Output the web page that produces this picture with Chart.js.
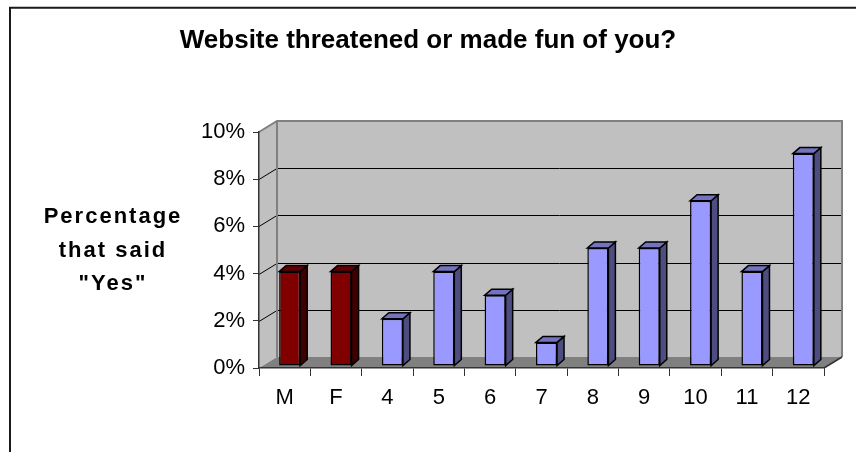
<!DOCTYPE html>
<html>
<head>
<meta charset="utf-8">
<script src="https://cdn.jsdelivr.net/npm/chart.js@4.4.0/dist/chart.umd.min.js"></script>
<style>
  html, body { margin: 0; padding: 0; background: #fff; }
  #wrap { width: 856px; height: 452px; }
</style>
</head>
<body>
<div id="wrap"><canvas id="chart" width="856" height="452"></canvas></div>
<script>
// Data
const categories = ["M", "F", "4", "5", "6", "7", "8", "9", "10", "11", "12"];
const yesPercent = [4, 4, 2, 4, 3, 1, 5, 5, 7, 4, 9];
const genderCategories = ["M", "F"];
const yTicks = [0, 2, 4, 6, 8, 10];
const chartTitle = "Website threatened or made fun of you?";
const yTitleLines = ["Percentage", "that said", "\"Yes\""];

// 3D look
const WALL = { dx: 18, dy: -11 };
const BAR_SHIFT = { x: 5, y: -2 };
const BAR_DEPTH = { dx: 7, dy: -6 };
const FONT = "'Liberation Sans', Arial, sans-serif";

const palette = {
  gender: { front: "#800000", side: "#400000", top: "#600000" },
  grade: { front: "#9999FF", side: "#4D4D80", top: "#7373BF" },
};
function groupOf(i) {
  return genderCategories.includes(categories[i]) ? "gender" : "grade";
}

// walls, floor, gridlines and the outer frame
const walls = {
  id: "walls",
  beforeDraw(chart) {
    const ctx = chart.ctx;
    const { left, right, top, bottom } = chart.chartArea;
    const y = chart.scales.y;
    ctx.save();

    ctx.strokeStyle = "#1a1a1a";
    ctx.lineWidth = 2;
    ctx.beginPath();
    ctx.moveTo(10, 470);
    ctx.lineTo(10, 7.7);
    ctx.lineTo(870, 7.7);
    ctx.stroke();

    // side wall
    ctx.fillStyle = "#C0C0C0";
    ctx.beginPath();
    ctx.moveTo(left, top);
    ctx.lineTo(left + WALL.dx, top + WALL.dy);
    ctx.lineTo(left + WALL.dx, bottom + WALL.dy);
    ctx.lineTo(left, bottom);
    ctx.closePath();
    ctx.fill();
    // back wall
    ctx.fillRect(left + WALL.dx, top + WALL.dy, right - left, bottom - top);
    // floor
    ctx.fillStyle = "#808080";
    ctx.beginPath();
    ctx.moveTo(left, bottom);
    ctx.lineTo(right, bottom);
    ctx.lineTo(right + WALL.dx, bottom + WALL.dy);
    ctx.lineTo(left + WALL.dx, bottom + WALL.dy);
    ctx.closePath();
    ctx.fill();

    // gridlines across side and back wall
    ctx.strokeStyle = "#000";
    ctx.lineWidth = 1;
    y.ticks.forEach((t) => {
      if (t.value === y.min || t.value === y.max) return;
      const py = Math.round(y.getPixelForValue(t.value)) + 0.5;
      ctx.beginPath();
      ctx.moveTo(left, py);
      ctx.lineTo(left + WALL.dx, py + WALL.dy);
      ctx.lineTo(right + WALL.dx, py + WALL.dy);
      ctx.stroke();
    });

    // wall edges
    ctx.strokeStyle = "#808080";
    ctx.lineWidth = 2;
    ctx.beginPath();
    ctx.moveTo(left, top);
    ctx.lineTo(left + WALL.dx, top + WALL.dy);
    ctx.lineTo(right + WALL.dx, top + WALL.dy);
    ctx.lineTo(right + WALL.dx, bottom + WALL.dy);
    ctx.moveTo(left + WALL.dx, top + WALL.dy);
    ctx.lineTo(left + WALL.dx, bottom + WALL.dy);
    ctx.stroke();

    ctx.strokeStyle = "#333";
    ctx.lineWidth = 1.5;
    ctx.beginPath();
    ctx.moveTo(right, bottom);
    ctx.lineTo(right + WALL.dx, bottom + WALL.dy);
    ctx.stroke();
    ctx.restore();
  },
  beforeDatasetsDraw(chart) {
    chart.ctx.save();
    chart.ctx.translate(BAR_SHIFT.x, BAR_SHIFT.y);
  },
  afterDatasetsDraw(chart) {
    const ctx = chart.ctx;
    ctx.strokeStyle = "#000";
    ctx.lineWidth = 1.5;
    ctx.lineJoin = "miter";
    chart.getDatasetMeta(0).data.forEach((bar, i) => {
      const { x, y, base, width } = bar.getProps(["x", "y", "base", "width"], true);
      const l = x - width / 2;
      const r = x + width / 2;
      const c = palette[groupOf(i)];
      // side face
      ctx.fillStyle = c.side;
      ctx.beginPath();
      ctx.moveTo(r, y);
      ctx.lineTo(r + BAR_DEPTH.dx, y + BAR_DEPTH.dy);
      ctx.lineTo(r + BAR_DEPTH.dx, base + BAR_DEPTH.dy);
      ctx.lineTo(r, base);
      ctx.closePath();
      ctx.fill();
      ctx.stroke();
      // top face
      ctx.fillStyle = c.top;
      ctx.beginPath();
      ctx.moveTo(l, y);
      ctx.lineTo(l + BAR_DEPTH.dx, y + BAR_DEPTH.dy);
      ctx.lineTo(r + BAR_DEPTH.dx, y + BAR_DEPTH.dy);
      ctx.lineTo(r, y);
      ctx.closePath();
      ctx.fill();
      ctx.stroke();
    });
    ctx.restore();
  },
  afterDraw(chart) {
    const ctx = chart.ctx;
    ctx.save();
    ctx.fillStyle = "#000";
    ctx.font = "bold 22px " + FONT;
    ctx.letterSpacing = "2px";
    ctx.textAlign = "center";
    ctx.textBaseline = "alphabetic";
    const baselines = [223, 256.5, 290];
    yTitleLines.forEach((line, i) => {
      ctx.fillText(line, 113, baselines[i]);
    });
    ctx.restore();
  },
};

new Chart(document.getElementById("chart"), {
  type: "bar",
  data: {
    labels: categories,
    datasets: [
      {
        data: yesPercent,
        backgroundColor: (ctx) => palette[groupOf(ctx.dataIndex)].front,
        borderColor: "#000",
        borderWidth: 1.5,
        borderSkipped: false,
        barPercentage: 0.41,
        categoryPercentage: 1,
        clip: false,
      },
    ],
  },
  options: {
    responsive: false,
    animation: false,
    devicePixelRatio: 1,
    layout: { padding: { left: 32, right: 32, top: 0, bottom: 0 } },
    plugins: {
      legend: { display: false },
      tooltip: { enabled: false },
      title: {
        display: true,
        text: chartTitle,
        color: "#000",
        font: { family: FONT, size: 26, weight: "bold" },
        padding: { top: 25.4, bottom: 75.4 },
      },
    },
    scales: {
      x: {
        grid: { drawOnChartArea: false, drawTicks: true, tickLength: 8, color: "#333", offset: true },
        border: { color: "#333", width: 1.5 },
        ticks: { color: "#000", font: { family: FONT, size: 22 }, padding: 9 },
        afterFit: (s) => { s.height = 84; },
      },
      y: {
        min: 0,
        max: 10,
        grid: { drawOnChartArea: false, drawTicks: true, tickLength: 6, color: "#333" },
        border: { color: "#333", width: 1.5 },
        ticks: {
          color: "#000",
          font: { family: FONT, size: 22 },
          padding: 8,
          callback: (v) => v + "%",
        },
        afterBuildTicks: (s) => { s.ticks = yTicks.map((v) => ({ value: v })); },
        afterFit: (s) => { s.width = 227; },
      },
    },
  },
  plugins: [walls],
});
</script>
</body>
</html>
